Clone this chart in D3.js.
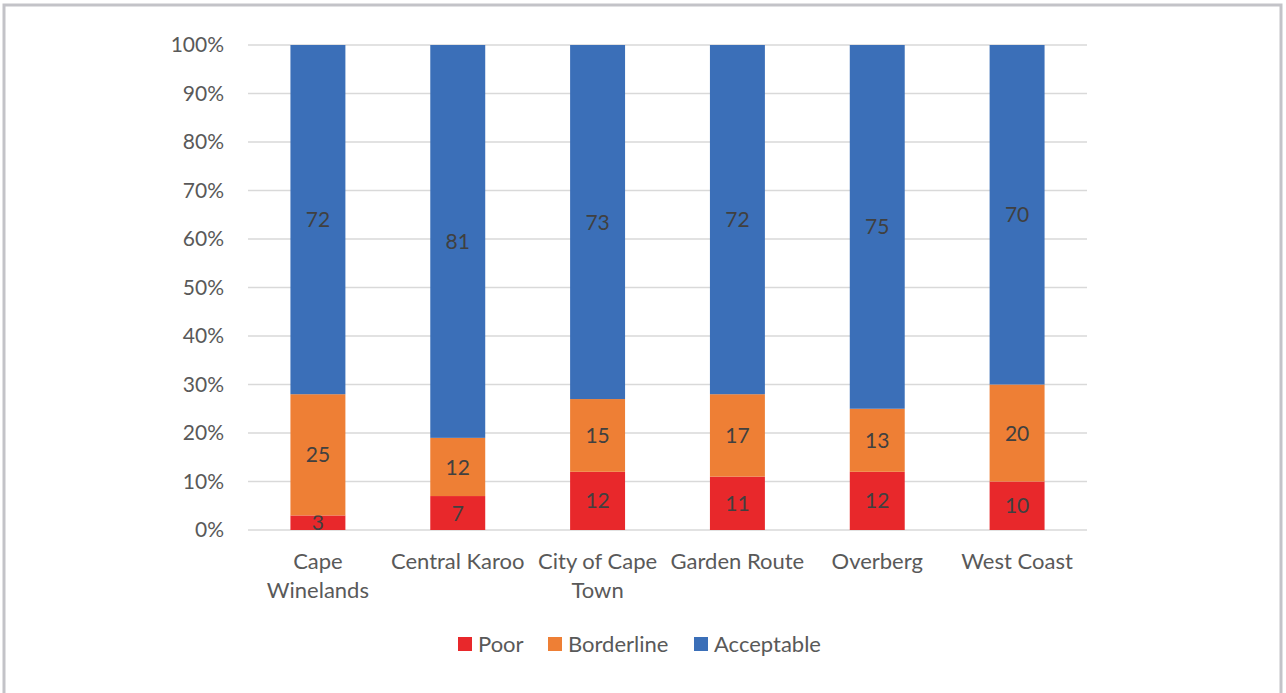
<!DOCTYPE html>
<html>
<head>
<meta charset="utf-8">
<script src="https://cdn.jsdelivr.net/npm/d3@7"></script>
<style>
  body { margin: 0; background: #fff; }
  svg text { font-family: Lato, "Open Sans", sans-serif; }
</style>
</head>
<body>
<div id="canvas"></div>
<script>
// data
const districts = ['Cape Winelands', 'Central Karoo', 'City of Cape Town', 'Garden Route', 'Overberg', 'West Coast'];
const seriesNames = ['Poor', 'Borderline', 'Acceptable'];
const poor = [3, 7, 12, 11, 12, 10];
const borderline = [25, 12, 15, 17, 13, 20];
const acceptable = [72, 81, 73, 72, 75, 70];
const yTicks = [0, 10, 20, 30, 40, 50, 60, 70, 80, 90, 100];

const colors = ['#e8282b', '#ee7f35', '#3b6fb8'];

// constants
const width = 1286;
const height = 693;
const plotLeft = 248;
const plotRight = 1087;
const plotTop = 45;
const plotBottom = 530;

const rows = districts.map((d, i) => ({
    district: d,
    Poor: poor[i],
    Borderline: borderline[i],
    Acceptable: acceptable[i]
}));

const stack = d3.stack()
    .keys(seriesNames)
    .offset(d3.stackOffsetExpand);
const stacked = stack(rows);

const x = d3.scaleBand()
    .domain(districts)
    .range([plotLeft, plotRight])
    .paddingInner(0.607)
    .paddingOuter(0.3035);

const y = d3.scaleLinear()
    .domain([0, 1])
    .range([plotBottom, plotTop]);

const svg = d3.select('#canvas')
    .append('svg').attr('width', width).attr('height', height);

// frame
svg.append('path')
    .attr('d', `M4,${height + 5} V5 H1281 V${height + 5}`)
    .attr('fill', 'none')
    .attr('stroke', '#c3c3c8')
    .attr('stroke-width', 3);

// gridlines
svg.append('g')
    .selectAll('line')
    .data(yTicks)
    .join('line')
    .attr('x1', plotLeft)
    .attr('x2', plotRight)
    .attr('y1', d => y(d / 100))
    .attr('y2', d => y(d / 100))
    .attr('stroke', '#d9d9d9')
    .attr('stroke-width', 1.5);

// y axis labels
const yAxis = d3.axisLeft(y)
    .tickValues(yTicks.map(d => d / 100))
    .tickFormat(d3.format('.0%'))
    .tickSize(0)
    .tickPadding(0);

svg.append('g')
    .attr('transform', 'translate(224,0)')
    .call(yAxis)
    .call(g => g.select('.domain').remove())
    .selectAll('text')
    .attr('font-family', 'Lato, "Open Sans", sans-serif')
    .attr('font-size', 21)
    .attr('fill', '#595959');

// bars
const layers = svg.append('g')
    .selectAll('g')
    .data(stacked)
    .join('g')
    .attr('fill', (d, i) => colors[i]);

layers.selectAll('rect')
    .data(d => d)
    .join('rect')
    .attr('x', d => x(d.data.district))
    .attr('width', x.bandwidth())
    .attr('y', d => y(d[1]))
    .attr('height', d => y(d[0]) - y(d[1]));

// value labels
layers.each(function (layer) {
    d3.select(this).selectAll('text')
        .data(layer)
        .join('text')
        .attr('x', d => x(d.data.district) + x.bandwidth() / 2)
        .attr('y', d => (y(d[0]) + y(d[1])) / 2)
        .attr('dy', '0.36em')
        .attr('text-anchor', 'middle')
        .attr('font-size', 21)
        .attr('fill', '#404040')
        .text(d => d.data[layer.key]);
});

// category labels, wrapped like the original
const wrapped = {
    'Cape Winelands': ['Cape', 'Winelands'],
    'City of Cape Town': ['City of Cape', 'Town']
};
const xLabels = svg.append('g')
    .selectAll('text')
    .data(districts)
    .join('text')
    .attr('x', d => x(d) + x.bandwidth() / 2)
    .attr('y', 569)
    .attr('text-anchor', 'middle')
    .attr('font-size', 22)
    .attr('fill', '#595959');

xLabels.selectAll('tspan')
    .data(d => wrapped[d] || [d])
    .join('tspan')
    .attr('x', function () { return d3.select(this.parentNode).attr('x'); })
    .attr('dy', (d, i) => i === 0 ? 0 : 29)
    .text(d => d);

// legend
const legendX = [458, 548, 694];
const legend = svg.append('g')
    .selectAll('g')
    .data(seriesNames)
    .join('g')
    .attr('transform', (d, i) => `translate(${legendX[i]},637)`);

legend.append('rect')
    .attr('width', 14)
    .attr('height', 14)
    .attr('fill', (d, i) => colors[i]);

legend.append('text')
    .attr('x', 20)
    .attr('y', 7)
    .attr('dy', '0.36em')
    .attr('font-size', 22)
    .attr('fill', '#595959')
    .text(d => d);
</script>
</body>
</html>
